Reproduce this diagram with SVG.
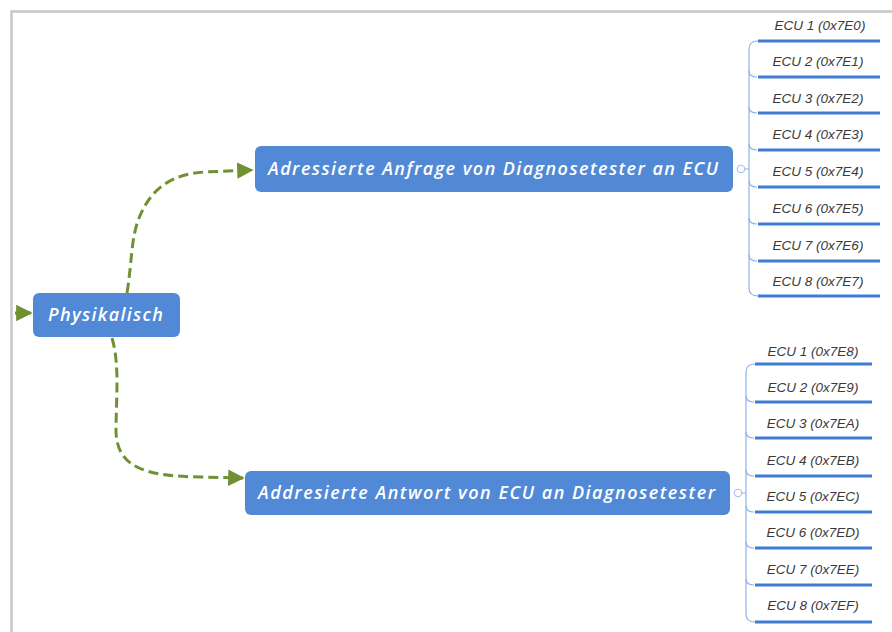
<svg xmlns="http://www.w3.org/2000/svg" width="892" height="632" viewBox="0 0 892 632">
  <defs>
    <marker id="arrow" viewBox="0 0 10 10" refX="9" refY="5" markerWidth="5.5" markerHeight="5.5" markerUnits="strokeWidth" orient="auto">
      <path d="M0,0 L10,5 L0,10 Z" fill="#6f9132"/>
    </marker>
    <style>
      .frame { fill: none; stroke: #c6c6c6; stroke-width: 2.5; }
      .node { fill: #5189d6; }
      .ntext { font-family: "Open Sans", "Noto Sans", sans-serif; font-style: italic; font-weight: 600; fill: #ffffff; }
      .link { fill: none; stroke: #6f9132; stroke-width: 3; stroke-dasharray: 10 5; }
      .entry { fill: none; stroke: #6f9132; stroke-width: 3; }
      .branch { fill: none; stroke: #8fb3e6; stroke-width: 1.2; }
      .under { stroke: #3f7dd2; stroke-width: 3.2; }
      .toggle { fill: #ffffff; stroke: #9bbbe6; stroke-width: 1; }
      .etext { font-family: "Liberation Sans", Arial, sans-serif; font-style: italic; font-size: 13.5px; fill: #3a3a3a; text-anchor: middle; }
    </style>
  </defs>

  <rect width="892" height="632" fill="#ffffff"/>
  <path class="frame" d="M11.5,632 L11.5,11.5 L892,11.5"/>

  <!-- connectors -->
  <g id="connectors">
    <line class="entry" x1="15" y1="313" x2="31" y2="313" marker-end="url(#arrow)"/>
    <path class="link" d="M127,293 C132,262 131,238 139,218 C151,188 172,174 205,172 L252,170" marker-end="url(#arrow)"/>
    <path class="link" d="M112,338 C120,365 116,400 116,430 C116,470 150,476 200,477 L243,478" marker-end="url(#arrow)"/>
  </g>

  <!-- main nodes -->
  <g id="node-physikalisch">
    <rect class="node" x="33" y="293" width="147" height="44" rx="6"/>
    <text class="ntext" x="48" y="321" font-size="18" textLength="115" lengthAdjust="spacing">Physikalisch</text>
  </g>

  <g id="node-anfrage">
    <rect class="node" x="255" y="146" width="478" height="46" rx="6"/>
    <text class="ntext" x="268" y="175" font-size="18" textLength="450" lengthAdjust="spacing">Adressierte Anfrage von Diagnosetester an ECU</text>
  </g>

  <g id="node-antwort">
    <rect class="node" x="245" y="471" width="485" height="44" rx="6"/>
    <text class="ntext" x="258" y="499" font-size="18" textLength="457" lengthAdjust="spacing">Addresierte Antwort von ECU an Diagnosetester</text>
  </g>

  <!-- request ECU list -->
  <g id="list-anfrage">
    <circle class="toggle" cx="741" cy="169" r="3.8"/>
    <path class="branch" d="M744.8,169 L749,169 M758,41 Q749,41 749,49 L749,288 Q749,296 758,296"/>
    <path class="branch" d="M749,71 Q749,77 757,77 M749,107 Q749,113 757,113 M749,144 Q749,150 757,150 M749,181 Q749,187 757,187 M749,218 Q749,224 757,224 M749,255 Q749,261 757,261"/>
  </g>
  <g id="ecu-7e0"><line class="under" x1="758" y1="41" x2="880" y2="41"/><text class="etext" x="820" y="30">ECU 1 (0x7E0)</text></g>
  <g id="ecu-7e1"><line class="under" x1="758" y1="77" x2="880" y2="77"/><text class="etext" x="818" y="66">ECU 2 (0x7E1)</text></g>
  <g id="ecu-7e2"><line class="under" x1="758" y1="113" x2="880" y2="113"/><text class="etext" x="818" y="103">ECU 3 (0x7E2)</text></g>
  <g id="ecu-7e3"><line class="under" x1="758" y1="150" x2="880" y2="150"/><text class="etext" x="818" y="139">ECU 4 (0x7E3)</text></g>
  <g id="ecu-7e4"><line class="under" x1="758" y1="187" x2="880" y2="187"/><text class="etext" x="818" y="176">ECU 5 (0x7E4)</text></g>
  <g id="ecu-7e5"><line class="under" x1="758" y1="224" x2="880" y2="224"/><text class="etext" x="818" y="213">ECU 6 (0x7E5)</text></g>
  <g id="ecu-7e6"><line class="under" x1="758" y1="261" x2="880" y2="261"/><text class="etext" x="818" y="250">ECU 7 (0x7E6)</text></g>
  <g id="ecu-7e7"><line class="under" x1="758" y1="296" x2="880" y2="296"/><text class="etext" x="818" y="286">ECU 8 (0x7E7)</text></g>

  <!-- response ECU list -->
  <g id="list-antwort">
    <circle class="toggle" cx="738" cy="493" r="3.8"/>
    <path class="branch" d="M741.8,493 L746,493 M755,364 Q746,364 746,372 L746,614 Q746,622 755,622"/>
    <path class="branch" d="M746,396 Q746,402 754,402 M746,432 Q746,438 754,438 M746,470 Q746,476 754,476 M746,506 Q746,512 754,512 M746,542 Q746,548 754,548 M746,579 Q746,585 754,585"/>
  </g>
  <g id="ecu-7e8"><line class="under" x1="755" y1="364" x2="872" y2="364"/><text class="etext" x="813" y="356">ECU 1 (0x7E8)</text></g>
  <g id="ecu-7e9"><line class="under" x1="755" y1="402" x2="872" y2="402"/><text class="etext" x="813" y="392">ECU 2 (0x7E9)</text></g>
  <g id="ecu-7ea"><line class="under" x1="755" y1="438" x2="872" y2="438"/><text class="etext" x="813" y="428">ECU 3 (0x7EA)</text></g>
  <g id="ecu-7eb"><line class="under" x1="755" y1="476" x2="872" y2="476"/><text class="etext" x="813" y="465">ECU 4 (0x7EB)</text></g>
  <g id="ecu-7ec"><line class="under" x1="755" y1="512" x2="872" y2="512"/><text class="etext" x="813" y="501">ECU 5 (0x7EC)</text></g>
  <g id="ecu-7ed"><line class="under" x1="755" y1="548" x2="872" y2="548"/><text class="etext" x="813" y="537">ECU 6 (0x7ED)</text></g>
  <g id="ecu-7ee"><line class="under" x1="755" y1="585" x2="872" y2="585"/><text class="etext" x="813" y="574">ECU 7 (0x7EE)</text></g>
  <g id="ecu-7ef"><line class="under" x1="755" y1="622" x2="872" y2="622"/><text class="etext" x="813" y="610">ECU 8 (0x7EF)</text></g>
</svg>
